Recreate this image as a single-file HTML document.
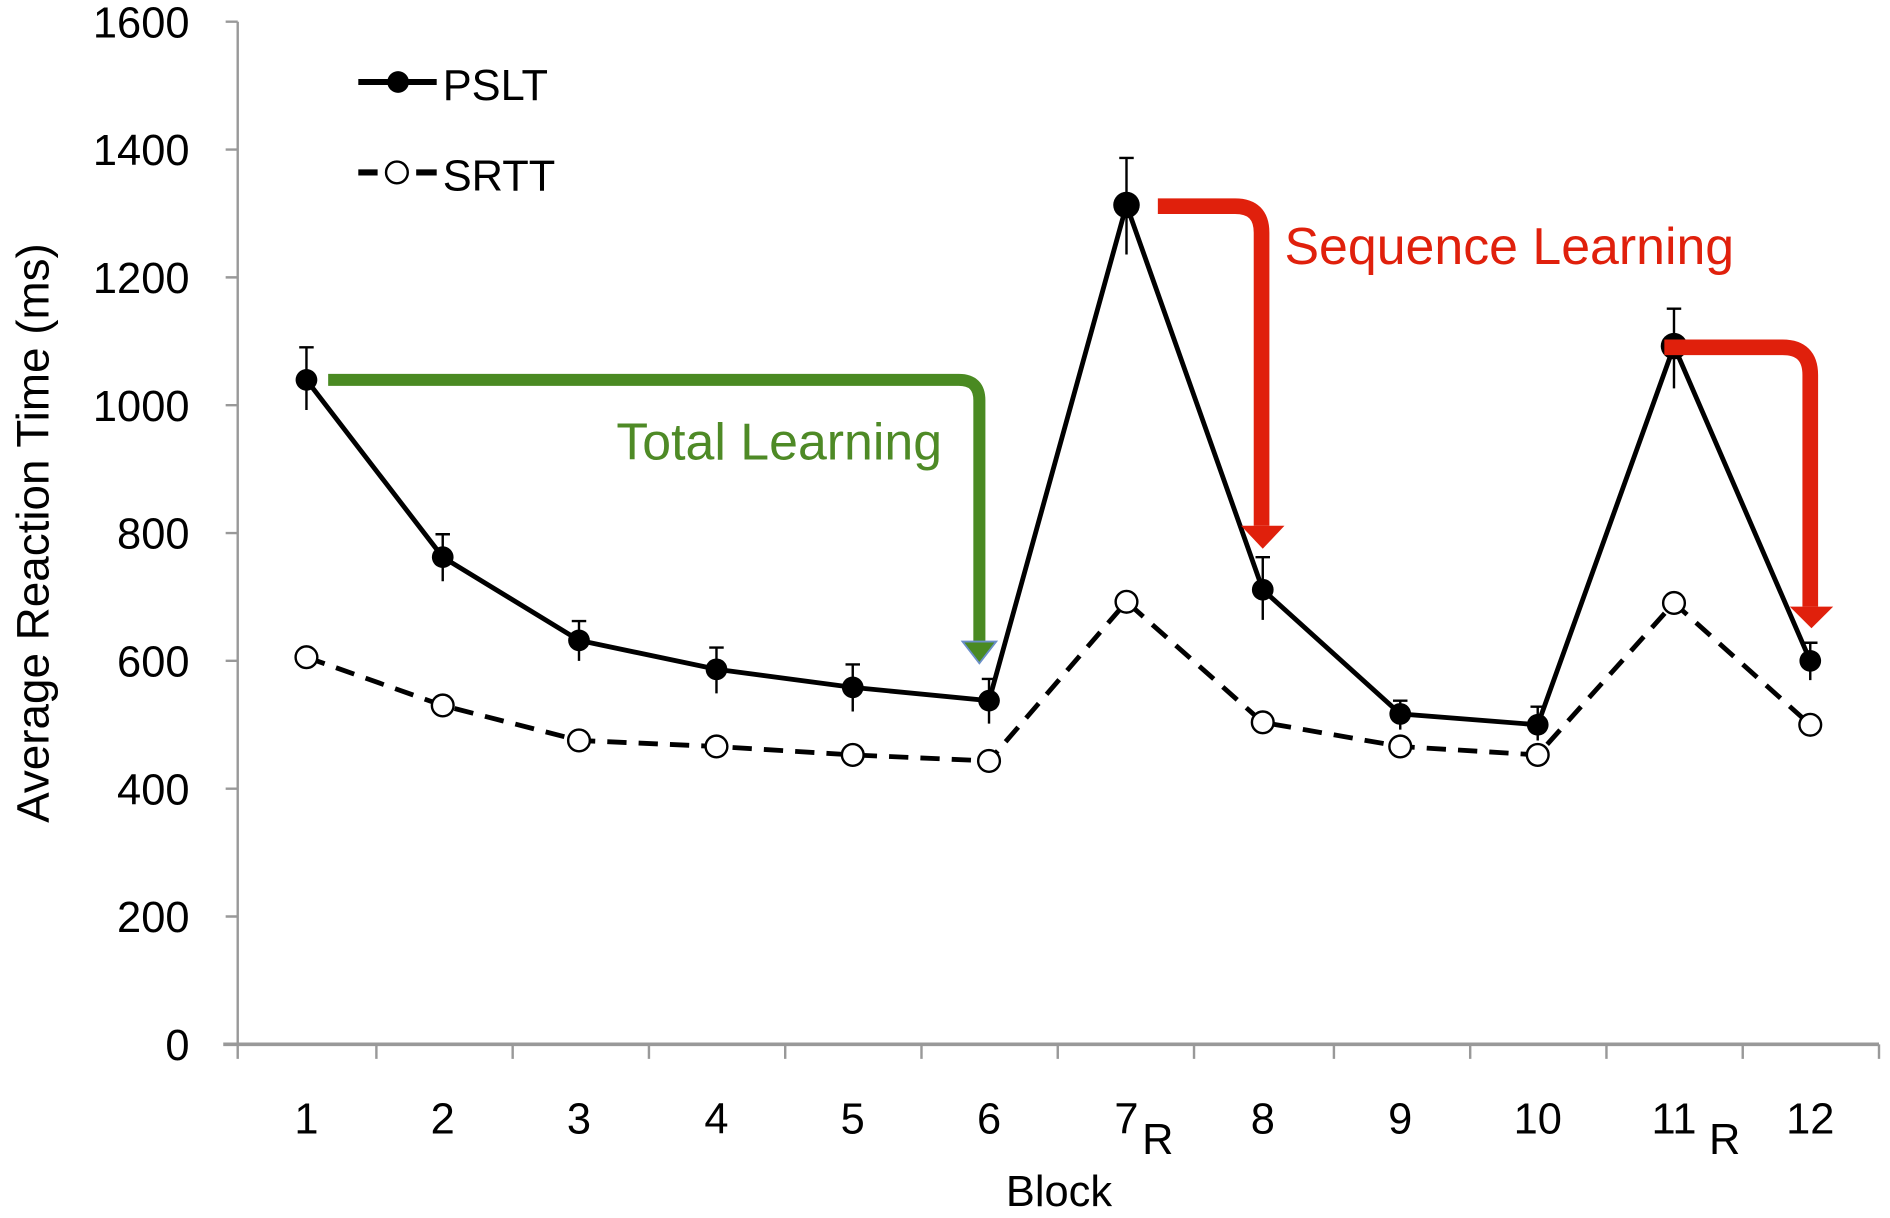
<!DOCTYPE html>
<html><head><meta charset="utf-8"><style>html,body{margin:0;padding:0;background:#fff}svg{display:block}</style></head><body>
<svg width="1890" height="1218" viewBox="0 0 1567 1010" xmlns="http://www.w3.org/2000/svg" font-family="'Liberation Sans', sans-serif">
<rect width="1567" height="1010" fill="#fff"/>
<g stroke="#999" stroke-width="2" fill="none">
<line x1="197" y1="18" x2="197" y2="866"/>
<line x1="185" y1="866" x2="1558" y2="866" stroke-width="3"/>
<path d="M187 18H197M187 124H197M187 230H197M187 336H197M187 442H197M187 548H197M187 654H197M187 760H197"/>
<path d="M197 866V878M312 866V878M425 866V878M538 866V878M651 866V878M764 866V878M877 866V878M990 866V878M1106 866V878M1219 866V878M1332 866V878M1445 866V878M1558 866V878"/>
</g>
<g font-size="36" text-anchor="end" fill="#000">
<text x="157" y="31">1600</text><text x="157" y="137">1400</text><text x="157" y="243">1200</text><text x="157" y="349">1000</text><text x="157" y="455">800</text><text x="157" y="561">600</text><text x="157" y="667">400</text><text x="157" y="773">200</text><text x="157" y="879">0</text>
</g>
<g font-size="36" text-anchor="middle" fill="#000">
<text x="254" y="940">1</text><text x="367" y="940">2</text><text x="480" y="940">3</text><text x="594" y="940">4</text><text x="707" y="940">5</text><text x="820" y="940">6</text><text x="934" y="940">7</text><text x="960" y="957">R</text><text x="1047" y="940">8</text><text x="1161" y="940">9</text><text x="1275" y="940">10</text><text x="1388" y="940">11</text><text x="1430" y="957">R</text><text x="1501" y="940">12</text>
<text x="878" y="1000">Block</text>
<text transform="translate(40,442) rotate(-90)" font-size="38">Average Reaction Time (ms)</text>
</g>
<!-- SRTT -->
<polyline fill="none" stroke="#000" stroke-width="4" stroke-dasharray="16,10" points="254,545 367,585 480,614 594,619 707,626 820,631 934,499 1047,599 1161,619 1275,626 1388,500 1501,601"/>
<g fill="#fff" stroke="#000" stroke-width="2">
<circle cx="254" cy="545" r="9"/><circle cx="367" cy="585" r="9"/><circle cx="480" cy="614" r="9"/><circle cx="594" cy="619" r="9"/><circle cx="707" cy="626" r="9"/><circle cx="820" cy="631" r="9"/><circle cx="934" cy="499" r="9"/><circle cx="1047" cy="599" r="9"/><circle cx="1161" cy="619" r="9"/><circle cx="1275" cy="626" r="9"/><circle cx="1388" cy="500" r="9"/><circle cx="1501" cy="601" r="9"/>
</g>
<!-- PSLT -->
<g stroke="#000" stroke-width="2">
<path d="M254 288V340M248 288H260M367 443V482M361 443H373M480 515V548M474 515H486M594 537V575M588 537H600M707 551V590M701 551H713M820 563V600M814 563H826M934 131V211M928 131H940M1047 462V514M1041 462H1053M1161 581V605M1155 581H1167M1275 586V614M1269 586H1281M1388 256V322M1382 256H1394M1501 533V564M1495 533H1507"/>
</g>
<polyline fill="none" stroke="#000" stroke-width="4" points="254,315 367,462 480,531 594,555 707,570 820,581 934,170 1047,489 1161,592 1275,601 1388,287 1501,548"/>
<g fill="#000">
<circle cx="254" cy="315" r="9"/><circle cx="367" cy="462" r="9"/><circle cx="480" cy="531" r="9"/><circle cx="594" cy="555" r="9"/><circle cx="707" cy="570" r="9"/><circle cx="820" cy="581" r="9"/><circle cx="934" cy="170" r="11"/><circle cx="1047" cy="489" r="9"/><circle cx="1161" cy="592" r="9"/><circle cx="1275" cy="601" r="9"/><circle cx="1388" cy="287" r="11"/><circle cx="1501" cy="548" r="9"/>
</g>
<!-- legend -->
<line x1="297" y1="68" x2="362" y2="68" stroke="#000" stroke-width="5"/>
<circle cx="330" cy="68" r="9" fill="#000"/>
<text x="367" y="83" font-size="36">PSLT</text>
<path d="M297 143H313M345 143H362" stroke="#000" stroke-width="5"/>
<circle cx="329" cy="143" r="9" fill="#fff" stroke="#000" stroke-width="2"/>
<text x="367" y="158" font-size="36">SRTT</text>
<!-- green arrow -->
<path d="M272 315H795Q812 315 812 332V532" fill="none" stroke="#4a8a22" stroke-width="10"/>
<path d="M798 532H826L812 550Z" fill="#4a8a22" stroke="#6b8fc8" stroke-width="1.5"/>
<text x="511" y="381" font-size="43" fill="#4e8a26">Total Learning</text>
<!-- red arrows -->
<path d="M960 171H1024Q1046 171 1046 193V436" fill="none" stroke="#e0200c" stroke-width="13"/>
<path d="M1029 436H1065L1047 455Z" fill="#e0200c"/>
<text x="1065" y="219" font-size="43" fill="#e0200c">Sequence Learning</text>
<path d="M1380 288H1478Q1501 288 1501 311V503" fill="none" stroke="#e0200c" stroke-width="13"/>
<path d="M1484 503H1520L1502 521Z" fill="#e0200c"/>
</svg>
</body></html>
